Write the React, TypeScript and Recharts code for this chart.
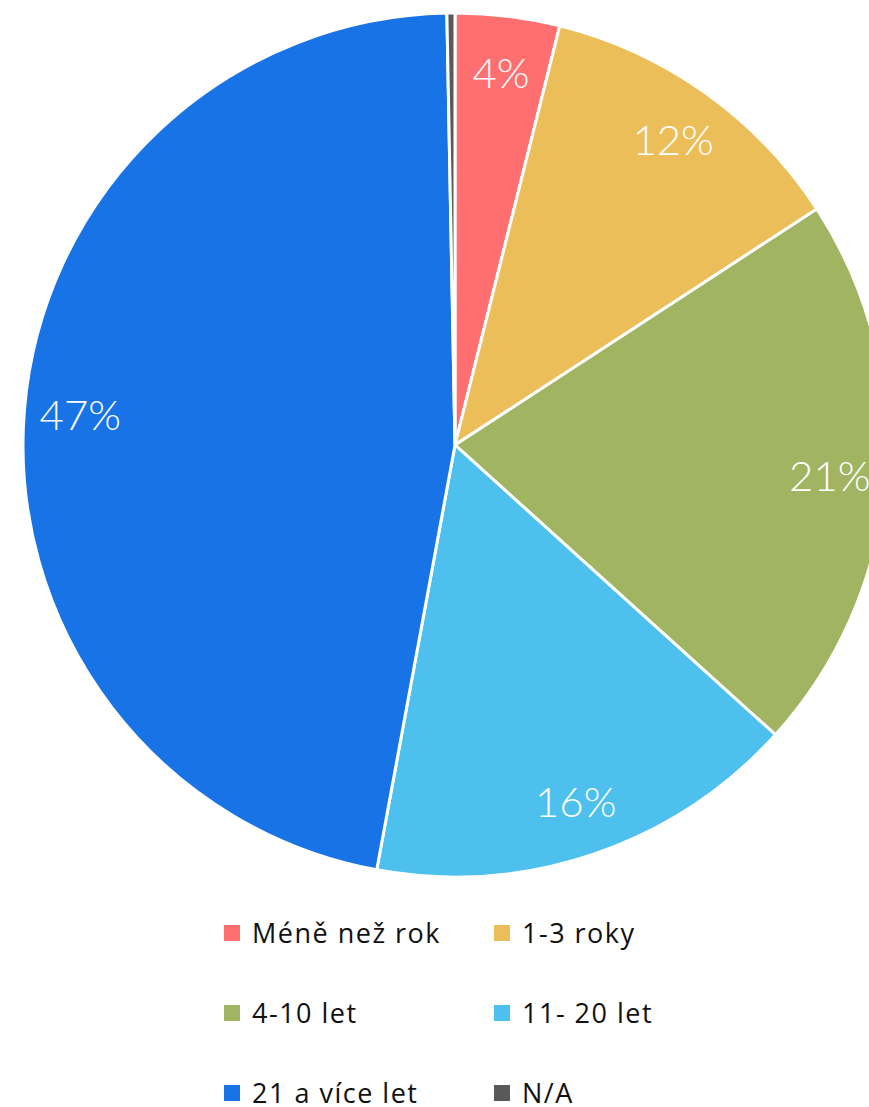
import { PieChart, Pie, Cell, Legend } from 'recharts';

const categories = ['Méně než rok', '1-3 roky', '4-10 let', '11- 20 let', '21 a více let', 'N/A'];
const shares = [3.9, 11.9, 20.9, 16.2, 46.8, 0.3];
const labels = ['4%', '12%', '21%', '16%', '47%', ''];
const COLORS = ['#ff6f6f', '#ebbe5a', '#a0b462', '#4dc0ee', '#1874e6', '#595959'];

const data = categories.map((name, i) => ({ name, value: shares[i], label: labels[i] }));

const LABEL_FONT = 'Lato, "Open Sans", sans-serif';
const LEGEND_FONT = '"Open Sans", Lato, sans-serif';
const RAD = Math.PI / 180;

const renderLabel = (props: any) => {
  const { cx, cy, midAngle, index } = props;
  const r = 376;
  const x = cx + r * Math.cos(-midAngle * RAD);
  const y = cy + r * Math.sin(-midAngle * RAD);
  return (
    <text
      x={x}
      y={y}
      fill="#ffffff"
      textAnchor="middle"
      dominantBaseline="central"
      fontFamily={LABEL_FONT}
      fontWeight={300}
      fontSize={42}
    >
      {data[index].label}
    </text>
  );
};

// legend keeps data order (recharts would sort it otherwise)
const LegendGrid = () => (
  <div
    style={{
      display: 'grid',
      gridTemplateColumns: '270px 200px',
      rowGap: 43,
      fontFamily: LEGEND_FONT,
      fontSize: 27,
      letterSpacing: 1.5,
      color: '#111',
    }}
  >
    {data.map((d, i) => (
      <div key={d.name} style={{ display: 'flex', alignItems: 'center', height: 37, whiteSpace: 'nowrap' }}>
        <span style={{ width: 16, height: 16, background: COLORS[i], marginRight: 12, display: 'inline-block', flexShrink: 0 }} />
        <span>{d.name}</span>
      </div>
    ))}
  </div>
);

export default function App() {
  return (
    <div style={{ position: 'fixed', top: 0, left: 0, width: 869, height: 1107, overflow: 'hidden', background: '#fff' }}>
      <PieChart width={869} height={1107} margin={{ top: 0, right: 0, bottom: 0, left: 0 }}>
        <Pie
          data={data}
          dataKey="value"
          nameKey="name"
          cx={455}
          cy={445}
          outerRadius={432}
          startAngle={90}
          endAngle={-270}
          stroke="#ffffff"
          strokeWidth={3}
          label={renderLabel}
          labelLine={false}
          isAnimationActive={false}
        >
          {data.map((_, i) => (
            <Cell key={`cell-${i}`} fill={COLORS[i]} />
          ))}
        </Pie>
        <Legend
          content={<LegendGrid />}
          wrapperStyle={{ position: 'absolute', left: 224, top: 914, width: 500 }}
        />
      </PieChart>
    </div>
  );
}
